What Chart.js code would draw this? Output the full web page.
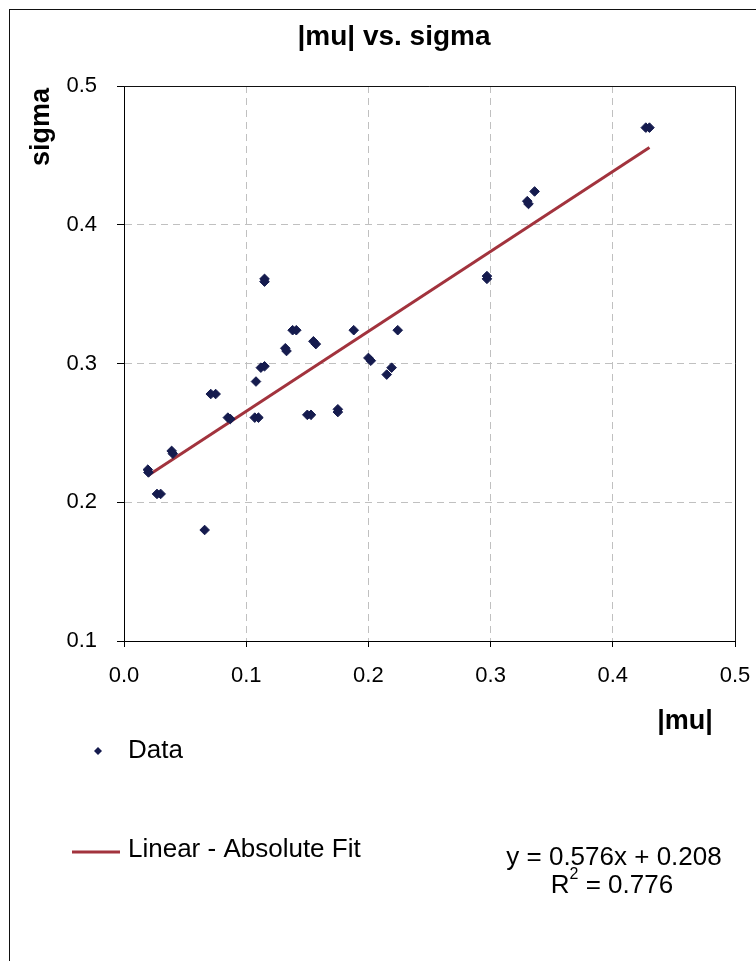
<!DOCTYPE html>
<html>
<head>
<meta charset="utf-8">
<script src="https://cdn.jsdelivr.net/npm/chart.js@4/dist/chart.umd.min.js"></script>
<style>
html, body { margin: 0; padding: 0; background: #fff; }
canvas { display: block; }
</style>
</head>
<body>
<canvas id="chart" width="756" height="961" style="width:756px;height:961px"></canvas>
<script>
// values (overlapping markers listed twice)
const muValues = [
  0.0195, 0.020, 0.027, 0.030, 0.039, 0.040, 0.066, 0.071, 0.075, 0.085,
  0.087, 0.108, 0.107, 0.110, 0.112, 0.115, 0.132, 0.133, 0.138, 0.141,
  0.155, 0.157, 0.150, 0.153, 0.175, 0.175, 0.188, 0.200, 0.202, 0.215,
  0.219, 0.224, 0.115, 0.115, 0.297, 0.297, 0.330, 0.331, 0.336, 0.427,
  0.430
];
const sigmaValues = [
  0.2235, 0.2215, 0.206, 0.206, 0.237, 0.235, 0.180, 0.278, 0.278, 0.261,
  0.260, 0.287, 0.261, 0.261, 0.297, 0.298, 0.311, 0.309, 0.324, 0.324,
  0.316, 0.314, 0.263, 0.263, 0.267, 0.265, 0.324, 0.304, 0.302, 0.292,
  0.297, 0.324, 0.361, 0.359, 0.363, 0.361, 0.417, 0.415, 0.424, 0.470,
  0.470
];
const fitX = [0.02, 0.43];
const fitY = [0.2195, 0.4557];

const xTicks = [0, 0.1, 0.2, 0.3, 0.4, 0.5];
const yTicks = [0.1, 0.2, 0.3, 0.4, 0.5];

const titleText = "|mu| vs. sigma";
const xTitle = "|mu|";
const yTitle = "sigma";
const seriesNames = ["Data", "Linear - Absolute Fit"];
const equationText = "y = 0.576x + 0.208";
const r2Value = "0.776";

const markerColor = "#151b4e";
const fitColor = "#a2333d";
const FONT = '"Liberation Sans", Arial, sans-serif';

Chart.defaults.font.family = FONT;
Chart.defaults.color = "#000";

// titles, frame, legend and equation
const decor = {
  id: "decor",
  afterDraw(chart) {
    const ctx = chart.ctx;
    const a = chart.chartArea;
    ctx.save();

    // outer chart border
    ctx.strokeStyle = "#111";
    ctx.lineWidth = 1;
    ctx.strokeRect(9.5, 9.5, 820, 1000);

    // top and right edges of plot area
    ctx.beginPath();
    ctx.moveTo(a.left, a.top + 0.5);
    ctx.lineTo(a.right + 0.5, a.top + 0.5);
    ctx.lineTo(a.right + 0.5, a.bottom);
    ctx.stroke();

    ctx.fillStyle = "#000";
    ctx.textBaseline = "middle";

    // chart title
    ctx.textAlign = "center";
    ctx.font = "bold 28px " + FONT;
    ctx.fillText(titleText, 394, 37);

    // axis titles
    ctx.font = "bold 27px " + FONT;
    ctx.fillText(xTitle, 685, 722);
    ctx.save();
    ctx.translate(42, 127);
    ctx.rotate(-Math.PI / 2);
    ctx.fillText(yTitle, 0, 0);
    ctx.restore();

    // legend
    ctx.textAlign = "left";
    ctx.font = "26px " + FONT;
    ctx.fillStyle = markerColor;
    ctx.beginPath();
    ctx.moveTo(98 - 4, 751);
    ctx.lineTo(98, 751 - 4);
    ctx.lineTo(98 + 4, 751);
    ctx.lineTo(98, 751 + 4);
    ctx.closePath();
    ctx.fill();
    ctx.fillStyle = "#000";
    ctx.fillText(seriesNames[0], 128, 751);

    ctx.strokeStyle = fitColor;
    ctx.lineWidth = 3;
    ctx.beginPath();
    ctx.moveTo(72, 852);
    ctx.lineTo(120, 852);
    ctx.stroke();
    ctx.fillText(seriesNames[1], 128, 850);

    // trendline equation
    ctx.textAlign = "center";
    ctx.fillText(equationText, 614, 858);
    ctx.textAlign = "left";
    const w1 = ctx.measureText("R").width;
    ctx.font = "16px " + FONT;
    const w2 = ctx.measureText("2").width;
    ctx.font = "26px " + FONT;
    const rest = " = " + r2Value;
    const w3 = ctx.measureText(rest).width;
    let x0 = 612 - (w1 + w2 + w3) / 2;
    ctx.fillText("R", x0, 886);
    ctx.font = "16px " + FONT;
    ctx.fillText("2", x0 + w1, 875);
    ctx.font = "26px " + FONT;
    ctx.fillText(rest, x0 + w1 + w2, 886);

    ctx.restore();
  }
};

new Chart(document.getElementById("chart"), {
  type: "scatter",
  data: {
    datasets: [
      {
        label: seriesNames[0],
        data: muValues.map((m, i) => ({ x: m, y: sigmaValues[i] })),
        pointStyle: "rectRot",
        pointRadius: 4.8,
        backgroundColor: markerColor,
        borderColor: markerColor,
        borderWidth: 1
      },
      {
        type: "line",
        label: seriesNames[1],
        data: fitX.map((x, i) => ({ x: x, y: fitY[i] })),
        borderColor: fitColor,
        borderWidth: 3,
        pointRadius: 0,
        fill: false
      }
    ]
  },
  options: {
    responsive: false,
    animation: false,
    layout: { padding: { left: 0, top: 86, right: 21, bottom: 260 } },
    plugins: {
      legend: { display: false },
      title: { display: false },
      tooltip: { enabled: false }
    },
    scales: {
      x: {
        type: "linear",
        min: 0,
        max: 0.5,
        afterBuildTicks: s => { s.ticks = xTicks.map(v => ({ value: v })); },
        afterFit: s => { s.height = 60; s.paddingLeft = 0; s.paddingRight = 0; },
        ticks: {
          font: { size: 22 },
          color: "#000",
          padding: 16,
          callback: v => v.toFixed(1)
        },
        grid: { color: "#c0c0c0", tickColor: "#000", tickLength: 6 },
        border: { color: "#000", width: 1, dash: [7, 5] }
      },
      y: {
        type: "linear",
        min: 0.1,
        max: 0.5,
        afterBuildTicks: s => { s.ticks = yTicks.map(v => ({ value: v })); },
        afterFit: s => { s.width = 124; s.paddingTop = 0; s.paddingBottom = 0; },
        ticks: {
          font: { size: 22 },
          color: "#000",
          padding: 20,
          callback: v => v.toFixed(1)
        },
        grid: { color: "#c0c0c0", tickColor: "#000", tickLength: 7 },
        border: { color: "#000", width: 1, dash: [7, 5] }
      }
    }
  },
  plugins: [decor]
});
</script>
</body>
</html>
